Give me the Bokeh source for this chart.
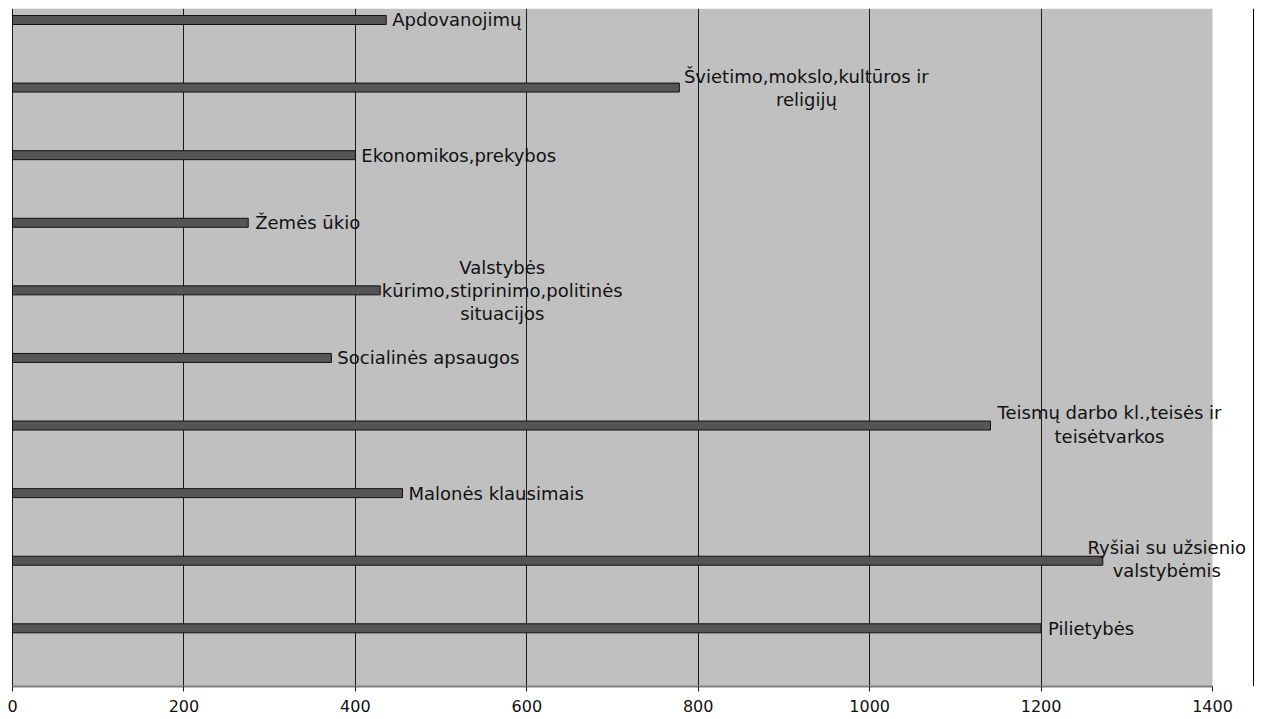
from bokeh.plotting import figure
from bokeh.models import Range1d, FixedTicker, BoxAnnotation, Span, ColumnDataSource
from bokeh.core.properties import value
from bokeh.embed import file_html
from bokeh.resources import INLINE

# ---- data (bottom to top) ----
categories = [
    "Pilietybės",
    "Ryšiai su užsienio valstybėmis",
    "Malonės klausimais",
    "Teismų darbo kl.,teisės ir teisėtvarkos",
    "Socialinės apsaugos",
    "Valstybės kūrimo,stiprinimo,politinės situacijos",
    "Žemės ūkio",
    "Ekonomikos,prekybos",
    "Švietimo,mokslo,kultūros ir religijų",
    "Apdovanojimų",
]
values = [1200, 1272, 455, 1141, 372, 429, 275, 400, 778, 436]
label_texts = [
    "Pilietybės",
    "Ryšiai su užsienio\nvalstybėmis",
    "Malonės klausimais",
    "Teismų darbo kl.,teisės ir\nteisėtvarkos",
    "Socialinės apsaugos",
    "Valstybės\nkūrimo,stiprinimo,politinės\nsituacijos",
    "Žemės ūkio",
    "Ekonomikos,prekybos",
    "Švietimo,mokslo,kultūros ir\nreligijų",
    "Apdovanojimų",
]
x_ticks = [0, 200, 400, 600, 800, 1000, 1200, 1400]
grid_ticks = [0, 200, 400, 600, 800, 1000, 1200]

# label placement (pixel offsets from bar end)
label_align = ["left", "center", "left", "center", "left", "center", "left", "left", "center", "left"]
label_dx = [7, 64, 6, 119, 6, 122, 7, 6, 127, 6]
label_dy = [0, -2, 0, -1, 0, 0, 0, 0, 0, 0]

ypos = list(range(len(categories)))

p = figure(width=1262, height=719, output_backend="svg", toolbar_location=None,
           x_range=Range1d(-2.333, 1451.33), y_range=Range1d(-0.861, 9.170),
           y_axis_location=None, min_border_left=10, min_border_right=6,
           min_border_top=8, min_border_bottom=33)
p.background_fill_color = "white"
p.border_fill_color = "white"
p.outline_line_color = None

# gray plot area
p.add_layout(BoxAnnotation(left=0, right=1400, fill_color="#c0c0c0", fill_alpha=1.0,
                           line_color=None, level="image"))

p.xaxis.ticker = FixedTicker(ticks=x_ticks)
p.xgrid.ticker = FixedTicker(ticks=grid_ticks)
p.xgrid.grid_line_color = "#1a1a1a"
p.xgrid.grid_line_width = 1
p.ygrid.visible = False
p.xaxis.bounds = (0, 1400)
p.xaxis.axis_line_color = "#808080"
p.xaxis.axis_line_width = 2
p.xaxis.major_tick_line_color = "#1a1a1a"
p.xaxis.major_tick_in = 0
p.xaxis.major_tick_out = 5
p.xaxis.minor_tick_line_color = None
p.xaxis.major_label_standoff = 8
p.xaxis.major_label_text_font = "DejaVu Sans"
p.xaxis.major_label_text_font_size = "16px"
p.xaxis.major_label_text_color = "#111111"

src = ColumnDataSource(dict(y=ypos, v=values))
p.hbar(y="y", right="v", left=0, height=0.133, source=src,
       fill_color="#555555", line_color="#111111", line_width=1)

for align in ("left", "center"):
    idx = [i for i, a in enumerate(label_align) if a == align]
    s = ColumnDataSource(dict(
        x=[values[i] for i in idx], y=[ypos[i] for i in idx],
        t=[label_texts[i] for i in idx],
        dx=[label_dx[i] for i in idx], dy=[label_dy[i] for i in idx]))
    p.text(x="x", y="y", text="t", x_offset="dx", y_offset="dy", source=s,
           text_align=align, text_baseline="middle",
           text_font=value("DejaVu Sans"), text_font_size="18px",
           text_color="#111111", text_line_height=1.1)

p.add_layout(Span(location=1447.83, dimension="height", line_color="#000000", line_width=1))

open("out.html", "w").write(file_html(p, INLINE))
